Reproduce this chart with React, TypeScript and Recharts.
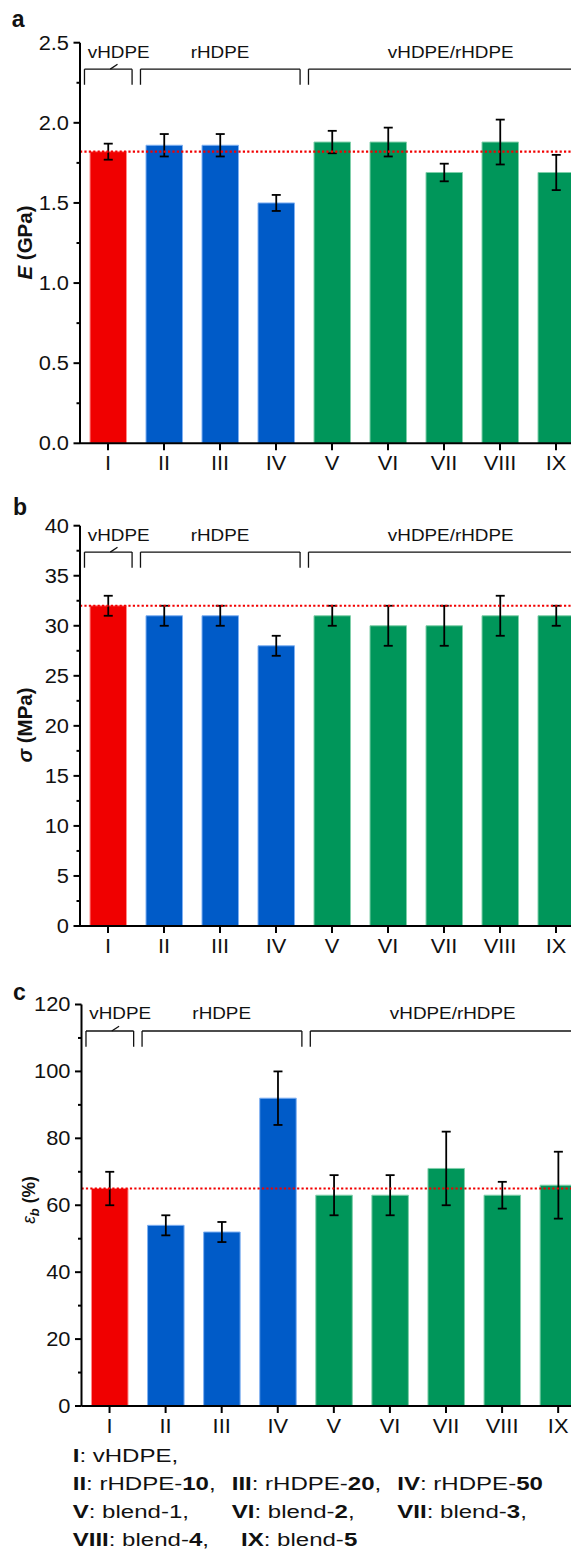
import React from 'react';
import { BarChart, Bar, XAxis, YAxis, Cell, ErrorBar, ReferenceLine, ReferenceDot } from 'recharts';

// ---------- data ----------
const categories = ['I', 'II', 'III', 'IV', 'V', 'VI', 'VII', 'VIII', 'IX'];
const sampleGroup = ['v', 'r', 'r', 'r', 'b', 'b', 'b', 'b', 'b'];
const modulusGPa = [1.82, 1.86, 1.86, 1.5, 1.88, 1.88, 1.69, 1.88, 1.69];
const modulusErr = [0.05, 0.07, 0.07, 0.05, 0.07, 0.09, 0.055, 0.14, 0.11];
const strengthMPa = [32, 31, 31, 28, 31, 30, 30, 31, 31];
const strengthErr = [1, 1, 1, 1, 1, 2, 2, 2, 1];
const elongationPct = [65, 54, 52, 92, 63, 63, 71, 63, 66];
const elongationErr = [5, 3, 3, 8, 6, 6, 11, 4, 10];
const modulusRef = 1.82;
const strengthRef = 32;
const elongationRef = 65;
const modulusTicks = [0, 0.25, 0.5, 0.75, 1, 1.25, 1.5, 1.75, 2, 2.25, 2.5];
const strengthTicks = [0, 2.5, 5, 7.5, 10, 12.5, 15, 17.5, 20, 22.5, 25, 27.5, 30, 32.5, 35, 37.5, 40];
const elongationTicks = [0, 10, 20, 30, 40, 50, 60, 70, 80, 90, 100, 110, 120];
const groupLabels = ['vHDPE', 'rHDPE', 'vHDPE/rHDPE'];
const groupStart = [0, 1, 4];
const groupEnd = [1, 4, 9];

const legendEntries = [
  { id: 'I', name: ': vHDPE', num: '', numBold: false, tail: ',' },
  { id: 'II', name: ': rHDPE-', num: '10', numBold: true, tail: ',' },
  { id: 'III', name: ': rHDPE-', num: '20', numBold: true, tail: ',' },
  { id: 'IV', name: ': rHDPE-', num: '50', numBold: true, tail: '' },
  { id: 'V', name: ': blend-', num: '1', numBold: false, tail: ',' },
  { id: 'VI', name: ': blend-', num: '2', numBold: true, tail: ',' },
  { id: 'VII', name: ': blend-', num: '3', numBold: true, tail: ',' },
  { id: 'VIII', name: ': blend-', num: '4', numBold: true, tail: ',' },
  { id: 'IX', name: ': blend-', num: '5', numBold: true, tail: '' },
];

// ---------- styles ----------
const FONT = '"Liberation Sans", Arial, Helvetica, sans-serif';
const groupColors: Record<string, string> = { v: '#F00000', r: '#005BC8', b: '#00965A' };
const groupEdges: Record<string, string> = { v: '#ff8a8a', r: '#7fb0f2', b: '#80cfaa' };

const makeData = (vals: number[], errs: number[]) =>
  categories.map((c, i) => ({ cat: c, pos: i + 0.5, value: vals[i], err: errs[i], group: sampleGroup[i] }));

const Y_TICK_SIZE = 7;
const Y_TICK_MARGIN = 4;

const makeYTick = (major: number, digits: number) => (props: any) => {
  const { x, y, payload } = props;
  const v = Number(payload.value);
  const isMajor = Math.abs(v / major - Math.round(v / major)) < 1e-6;
  const ax = x + Y_TICK_SIZE + Y_TICK_MARGIN;
  return (
    <g>
      <line x1={ax - (isMajor ? 6.5 : 3.5)} x2={ax} y1={y} y2={y} stroke="#000" strokeWidth={2} />
      {isMajor && (
        <text
          transform={`translate(${x},${y}) scale(1.12,1)`}
          textAnchor="end"
          dy="0.355em"
          fontSize={19.5}
          fontFamily={FONT}
          fill="#111"
        >
          {v.toFixed(digits)}
        </text>
      )}
    </g>
  );
};

const XTick = (props: any) => {
  const { x, y, payload } = props;
  return (
    <text
      transform={`translate(${x},${y}) scale(1.12,1)`}
      textAnchor="middle"
      dy="0.71em"
      fontSize={19.5}
      fontFamily={FONT}
      fill="#111"
    >
      {payload.value}
    </text>
  );
};

const bracketLabel = (text: string) => (props: any) => {
  const vb = props.viewBox || {};
  const cx = (vb.x ?? 0) + (vb.width ?? 0) / 2;
  const cy = (vb.y ?? 0) + (vb.height ?? 0) / 2;
  return (
    <text
      transform={`translate(${cx},${cy}) scale(1.18,1)`}
      textAnchor="middle"
      dy="0.355em"
      fontSize={16}
      fontFamily={FONT}
      fill="#111"
    >
      {text}
    </text>
  );
};

const BRACKET_TOP = 0.934;
const BRACKET_LEG = 0.895;
const TEXT_Y = 0.977;
const SLASH_Y = 0.946;
const labelXs = [0.69, 2.5, 6.62];

type PanelProps = {
  top: number;
  mLeft: number;
  mRight: number;
  mTop: number;
  mBottom: number;
  data: any[];
  yMax: number;
  ticks: number[];
  major: number;
  digits: number;
  refValue: number;
};

function Panel(p: PanelProps) {
  const yt = p.yMax * BRACKET_TOP;
  const yb = p.yMax * BRACKET_LEG;
  const segs: number[][][] = [];
  groupLabels.forEach((_, i) => {
    const x0 = groupStart[i] + 0.08;
    const x1 = groupEnd[i] - 0.07;
    const open = groupEnd[i] === categories.length;
    segs.push([[x0, yb], [x0, yt]]);
    segs.push([[x0, yt], [open ? groupEnd[i] : x1, yt]]);
    if (!open) segs.push([[x1, yt], [x1, yb]]);
  });
  segs.push([[0.54, yt], [0.67, p.yMax * SLASH_Y]]);

  return (
    <div style={{ position: 'absolute', left: 0, top: p.top, width: 571, height: 480, overflow: 'hidden' }}>
      <BarChart
        width={600}
        height={480}
        data={p.data}
        margin={{ top: p.mTop, right: p.mRight, bottom: p.mBottom, left: p.mLeft }}
      >
        <XAxis
          dataKey="cat"
          type="category"
          interval={0}
          tick={XTick}
          tickSize={7}
          tickMargin={6}
          tickLine={{ stroke: '#000', strokeWidth: 2 }}
          axisLine={{ stroke: '#000', strokeWidth: 2 }}
          height={40}
        />
        <XAxis xAxisId="n" type="number" dataKey="pos" domain={[0, 9]} allowDataOverflow hide />
        <YAxis
          domain={[0, p.yMax]}
          ticks={p.ticks}
          interval={0}
          width={72}
          tickSize={Y_TICK_SIZE}
          tickMargin={Y_TICK_MARGIN}
          tickLine={false}
          axisLine={{ stroke: '#000', strokeWidth: 2 }}
          tick={makeYTick(p.major, p.digits)}
          allowDataOverflow
        />
        <Bar dataKey="value" barSize={36.5} isAnimationActive={false}>
          {p.data.map((d, i) => (
            <Cell key={i} fill={groupColors[d.group]} stroke={groupEdges[d.group]} strokeWidth={1} />
          ))}
          <ErrorBar dataKey="err" width={4.5} stroke="#000" strokeWidth={1.8} isAnimationActive={false} />
        </Bar>
        <ReferenceLine y={p.refValue} stroke="#f20000" strokeWidth={2.2} strokeDasharray="2.2 2.2" />
        {segs.map((s, i) => (
          <ReferenceLine
            key={'s' + i}
            xAxisId="n"
            segment={[{ x: s[0][0], y: s[0][1] }, { x: s[1][0], y: s[1][1] }]}
            stroke="#111"
            strokeWidth={1.3}
          />
        ))}
        {groupLabels.map((g, i) => (
          <ReferenceDot
            key={'t' + i}
            xAxisId="n"
            x={labelXs[i]}
            y={p.yMax * TEXT_Y}
            r={1}
            fill="none"
            stroke="none"
            label={bracketLabel(g)}
          />
        ))}
      </BarChart>
    </div>
  );
}

// legend layout in page pixels (baseline y, left x)
const legendRows = [
  { y: 1462, items: [{ x: 72.7, e: 0 }] },
  { y: 1490, items: [{ x: 72.7, e: 1 }, { x: 231.7, e: 2 }, { x: 397.3, e: 3 }] },
  { y: 1518, items: [{ x: 72.7, e: 4 }, { x: 231.7, e: 5 }, { x: 397.3, e: 6 }] },
  { y: 1546, items: [{ x: 72.7, e: 7 }, { x: 241, e: 8 }] },
];

export default function App() {
  const aData = makeData(modulusGPa, modulusErr);
  const bData = makeData(strengthMPa, strengthErr);
  const cData = makeData(elongationPct, elongationErr);
  return (
    <div style={{ position: 'relative', width: 571, height: 1551, fontFamily: FONT }}>
      <style>{'html,body{overflow:hidden;}'}</style>
      <Panel top={0} mLeft={0} mRight={24} mTop={34.7} mBottom={4.7} data={aData} yMax={2.5} ticks={modulusTicks} major={0.5} digits={1} refValue={modulusRef} />
      <Panel top={483} mLeft={0} mRight={24} mTop={34.7} mBottom={5} data={bData} yMax={40} ticks={strengthTicks} major={5} digits={0} refValue={strengthRef} />
      <Panel top={962} mLeft={1.5} mRight={21.8} mTop={34.5} mBottom={4} data={cData} yMax={120} ticks={elongationTicks} major={20} digits={0} refValue={elongationRef} />
      <svg width={579} height={1567} style={{ position: 'absolute', left: -8, top: -8, pointerEvents: 'none' }}>
        <g fontFamily={FONT} fill="#111">
          <text x={11.7} y={26.7} fontSize={23} fontWeight="bold">a</text>
          <text x={13} y={515} fontSize={23} fontWeight="bold">b</text>
          <text x={13} y={1000} fontSize={23} fontWeight="bold">c</text>
          <text transform="translate(25,242.5) rotate(-90)" textAnchor="middle" dy="0.355em" fontSize={20.5} fontWeight="bold">
            <tspan fontStyle="italic">E</tspan>
            <tspan> (GPa)</tspan>
          </text>
          <text transform="translate(25,725) rotate(-90)" textAnchor="middle" dy="0.355em" fontSize={20.5} fontWeight="bold">
            <tspan fontStyle="italic">σ</tspan>
            <tspan> (MPa)</tspan>
          </text>
          <text transform="translate(29,1200) rotate(-90)" textAnchor="middle" dy="0.355em" fontSize={17.5} fontWeight="bold">
            <tspan fontStyle="italic" fontWeight="normal">ε</tspan>
            <tspan fontStyle="italic" fontSize={13} dy="4">b</tspan>
            <tspan dy="-4"> (%)</tspan>
          </text>
          {legendRows.map((row, ri) =>
            row.items.map((it, ii) => {
              const e = legendEntries[it.e];
              return (
                <text key={ri + '-' + ii} transform={`translate(${it.x},${row.y}) scale(1.3,1)`} fontSize={18.5}>
                  <tspan fontWeight="bold">{e.id}</tspan>
                  <tspan>{e.name}</tspan>
                  <tspan fontWeight={e.numBold ? 'bold' : 'normal'}>{e.num}</tspan>
                  <tspan>{e.tail}</tspan>
                </text>
              );
            })
          )}
        </g>
      </svg>
    </div>
  );
}
